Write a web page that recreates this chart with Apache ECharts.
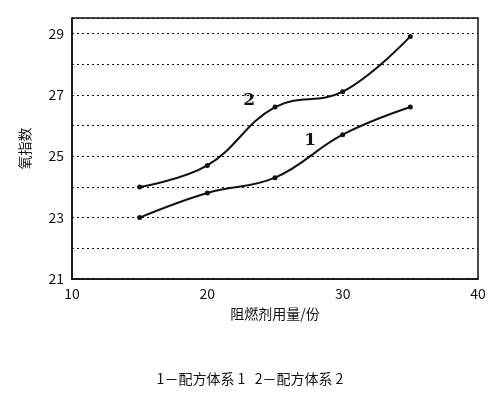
<!DOCTYPE html>
<html><head><meta charset="utf-8">
<script src="https://cdn.jsdelivr.net/npm/echarts@6/dist/echarts.min.js"></script>
<style>body{margin:0;background:#fff}#c{width:500px;height:401px}</style>
</head><body><div id="c"></div>
<script>
var dosage = [15, 20, 25, 30, 35];
var system1 = [23.0, 23.8, 24.3, 25.7, 26.6];
var system2 = [24.0, 24.7, 26.6, 27.1, 28.9];
var yTicks = [21, 23, 25, 27, 29];

var chart = echarts.init(document.getElementById('c'));
var font = '"Noto Sans CJK SC", serif';
function pairs(ys) { return dosage.map(function (x, i) { return [x, ys[i]]; }); }
function tag(x, y, t) {
  return { symbol: 'circle', symbolSize: 1, itemStyle: { color: 'rgba(0,0,0,0)' },
    data: [{ coord: [x, y], value: t }],
    label: { show: true, position: 'inside', color: '#111', fontSize: 17, fontWeight: 'bold', fontFamily: 'DejaVu Serif' } };
}

chart.setOption({
  animation: false,
  grid: { left: 72, right: 22, top: 18, bottom: 122 },
  xAxis: {
    type: 'value', min: 10, max: 40, interval: 10,
    name: '阻燃剂用量/份', nameLocation: 'middle', nameGap: 28,
    nameTextStyle: { color: '#111', fontSize: 14, fontFamily: font },
    axisLine: { lineStyle: { color: '#111', width: 1.5 } },
    axisTick: { show: false },
    axisLabel: { color: '#111', fontSize: 14, fontFamily: font },
    splitLine: { show: false }
  },
  yAxis: {
    type: 'value', min: 21, max: 29.5, interval: 1,
    name: '氧指数', nameLocation: 'middle', nameGap: 40,
    nameTextStyle: { color: '#111', fontSize: 14, fontFamily: font },
    axisLine: { show: true, lineStyle: { color: '#111', width: 1.5 } },
    axisTick: { show: false },
    axisLabel: {
      color: '#111', fontSize: 14, fontFamily: font,
      formatter: function (v) { return yTicks.indexOf(v) >= 0 ? v : ''; }
    },
    splitLine: { show: true, lineStyle: { color: '#111', type: [2, 3], width: 1.2 } }
  },
  graphic: [
    { type: 'rect', shape: { x: 72, y: 18, width: 406, height: 261 },
      style: { fill: 'none', stroke: '#111', lineWidth: 1.5 } },
    { type: 'text', left: 'center', top: 372,
      style: { text: '1－配方体系 1   2－配方体系 2', fill: '#111', fontSize: 14, fontFamily: font } }
  ],
  series: [
    { type: 'line', smooth: 0.4, data: pairs(system1), symbol: 'circle', symbolSize: 5,
      lineStyle: { color: '#111', width: 2 }, itemStyle: { color: '#111' },
      markPoint: tag(27.6, 25.5, '1') },
    { type: 'line', smooth: 0.4, data: pairs(system2), symbol: 'circle', symbolSize: 5,
      lineStyle: { color: '#111', width: 2 }, itemStyle: { color: '#111' },
      markPoint: tag(23.1, 26.8, '2') }
  ]
});
</script></body></html>
